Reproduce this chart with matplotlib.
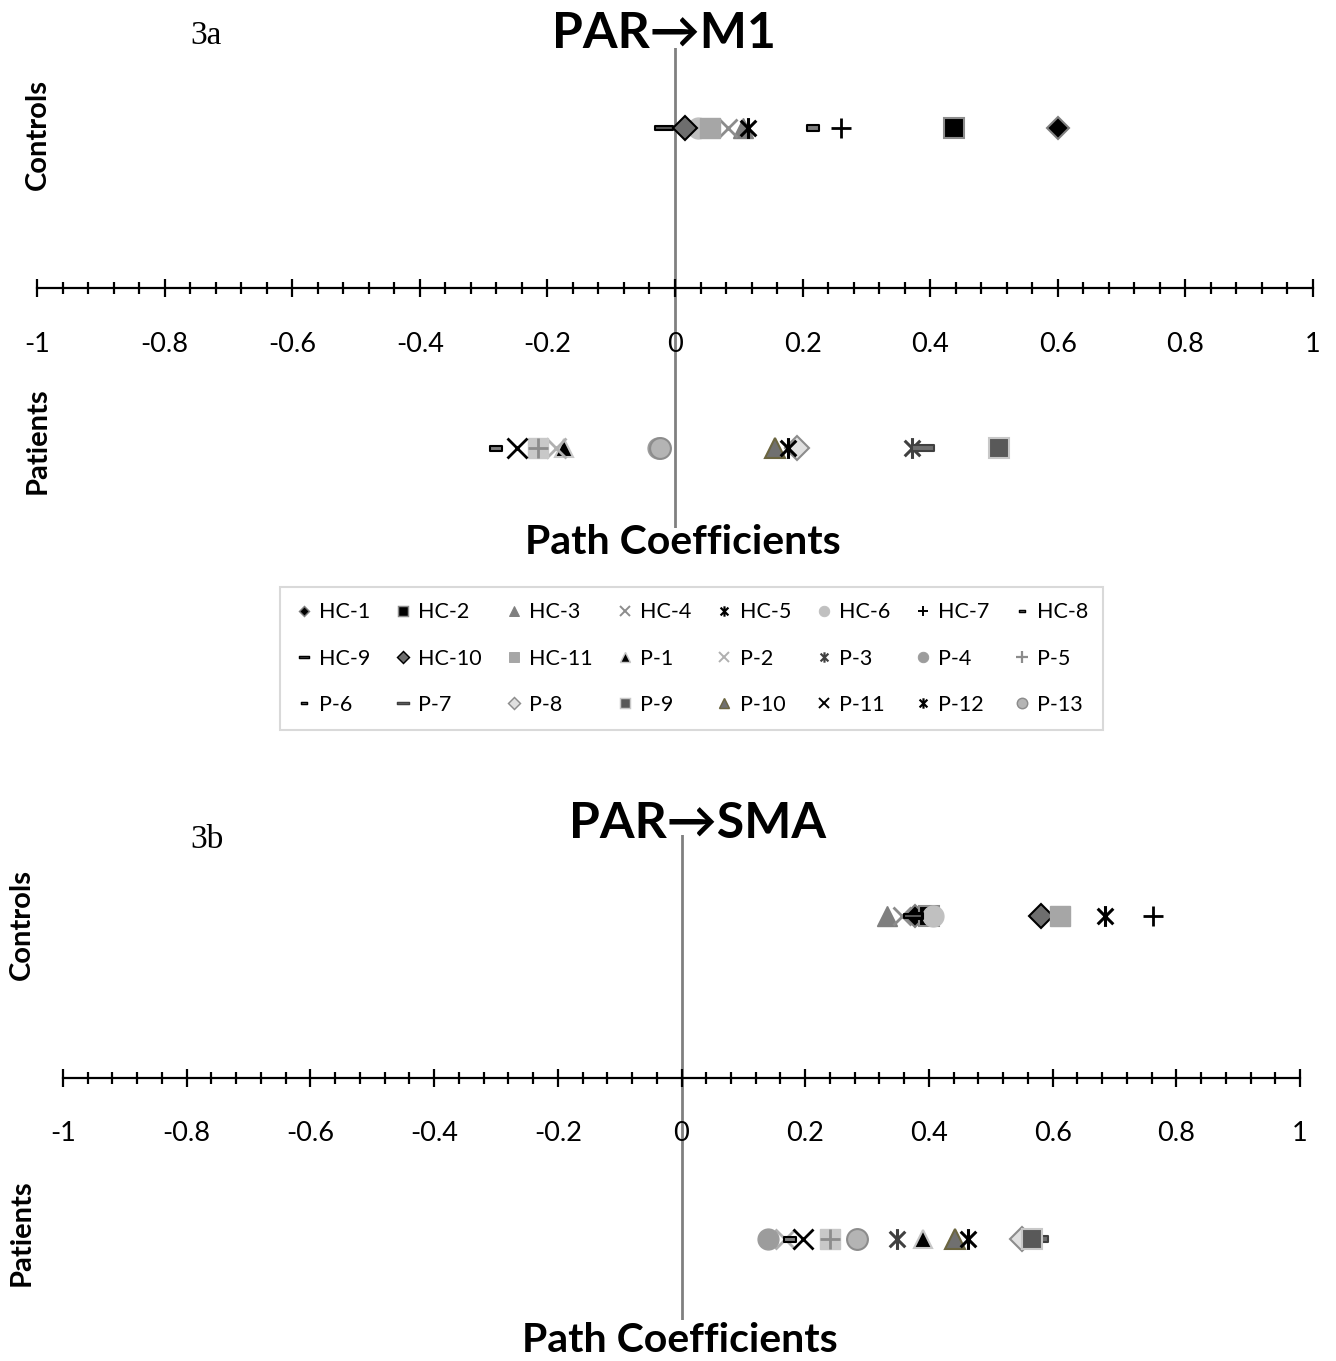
import numpy as np
import matplotlib
matplotlib.use("Agg")
import matplotlib.pyplot as plt
from matplotlib.path import Path
from matplotlib.lines import Line2D
from matplotlib.ticker import FixedLocator, MultipleLocator

W, H = 1336, 1361
plt.rcParams['font.family'] = ['Lato', 'DejaVu Sans']

# ---------------- data ----------------
groups = ["HC-1", "HC-2", "HC-3", "HC-4", "HC-5", "HC-6", "HC-7", "HC-8", "HC-9",
          "HC-10", "HC-11", "P-1", "P-2", "P-3", "P-4", "P-5", "P-6", "P-7", "P-8",
          "P-9", "P-10", "P-11", "P-12", "P-13"]

m1_controls = [0.600, 0.437, 0.107, 0.083, 0.115, 0.036, 0.260, 0.216, -0.017, 0.016, 0.055]
m1_patients = [-0.174, -0.186, 0.371, -0.026, -0.214, -0.281, 0.389, 0.191, 0.508,
               0.157, -0.248, 0.177, -0.024]
sma_controls = [0.378, 0.400, 0.332, 0.356, 0.685, 0.407, 0.763, 0.380, 0.375, 0.582, 0.612]
sma_patients = [0.390, 0.167, 0.348, 0.140, 0.240, 0.175, 0.575, 0.550, 0.567,
                0.442, 0.197, 0.464, 0.283]

tick_values = [-1, -0.8, -0.6, -0.4, -0.2, 0, 0.2, 0.4, 0.6, 0.8, 1]
tick_labels = ["-1", "-0.8", "-0.6", "-0.4", "-0.2", "0", "0.2", "0.4", "0.6", "0.8", "1"]

# ---------------- marker styles ----------------
star = Path([(0, -1), (0, 1), (-0.75, -0.75), (0.75, 0.75), (-0.75, 0.75), (0.75, -0.75)],
            [Path.MOVETO, Path.LINETO] * 3)
short_dash = Path([(-1, -0.45), (1, -0.45), (1, 0.45), (-1, 0.45), (-1, -0.45)],
                  [Path.MOVETO, Path.LINETO, Path.LINETO, Path.LINETO, Path.CLOSEPOLY])
long_dash = Path([(-1, -0.25), (1, -0.25), (1, 0.25), (-1, 0.25), (-1, -0.25)],
                 [Path.MOVETO, Path.LINETO, Path.LINETO, Path.LINETO, Path.CLOSEPOLY])

styles = {
    "HC-1": dict(marker='D', ms=11, mfc='black', mec='#7f7f7f', mew=1.5),
    "HC-2": dict(marker='s', ms=14, mfc='black', mec='#8c8c8c', mew=1.5),
    "HC-3": dict(marker='^', ms=15, mfc='#7f7f7f', mec='#7f7f7f', mew=1),
    "HC-4": dict(marker='x', ms=13, mfc='none', mec='#8c8c8c', mew=2),
    "HC-5": dict(marker=star, ms=15, mfc='none', mec='black', mew=2.2),
    "HC-6": dict(marker='o', ms=15, mfc='#c0c0c0', mec='#c0c0c0', mew=1),
    "HC-7": dict(marker='+', ms=15, mfc='none', mec='black', mew=2),
    "HC-8": dict(marker=short_dash, ms=9, mfc='#7f7f7f', mec='black', mew=1.5),
    "HC-9": dict(marker=long_dash, ms=13, mfc='#595959', mec='black', mew=1.5),
    "HC-10": dict(marker='D', ms=12, mfc='#6e6e6e', mec='black', mew=1.5),
    "HC-11": dict(marker='s', ms=15, mfc='#a6a6a6', mec='#a6a6a6', mew=1),
    "P-1": dict(marker='^', ms=13, mfc='black', mec='#c8c8c8', mew=1.5),
    "P-2": dict(marker='x', ms=14, mfc='none', mec='#b0b0b0', mew=2),
    "P-3": dict(marker=star, ms=15, mfc='none', mec='#404040', mew=2.2),
    "P-4": dict(marker='o', ms=15, mfc='#9c9c9c', mec='#9c9c9c', mew=1),
    "P-5": dict(marker='s', ms=14, mfc='#c8c8c8', mec='#c8c8c8', mew=1),
    "P-6": dict(marker=short_dash, ms=8, mfc='#7f7f7f', mec='black', mew=1.5),
    "P-7": dict(marker=long_dash, ms=16, mfc='#6e6e6e', mec='#404040', mew=1.5),
    "P-8": dict(marker='D', ms=12, mfc='#e0e0e0', mec='#8c8c8c', mew=1.5),
    "P-9": dict(marker='s', ms=15, mfc='#595959', mec='#c8c8c8', mew=1.5),
    "P-10": dict(marker='^', ms=15, mfc='#707070', mec='#6b6540', mew=1.5),
    "P-11": dict(marker='x', ms=14, mfc='none', mec='black', mew=2),
    "P-12": dict(marker=star, ms=15, mfc='none', mec='black', mew=2.2),
    "P-13": dict(marker='o', ms=15, mfc='#b4b4b4', mec='#8c8c8c', mew=1.5),
}

fig = plt.figure(figsize=(W / 100, H / 100), dpi=100)


def fx(px):
    return px / W


def fy(py):
    return 1 - py / H


def make_panel(left, right, top, bottom, controls, patients):
    ax = fig.add_axes([fx(left), fy(bottom), (right - left) / W, (bottom - top) / H])
    ax.set_xlim(-1, 1)
    ax.set_ylim(-1.5, 1.5)
    ax.patch.set_alpha(0)
    for s in ['top', 'left', 'right']:
        ax.spines[s].set_visible(False)
    ax.spines['bottom'].set_position(('data', 0))
    ax.spines['bottom'].set_linewidth(1.6)
    ax.spines['bottom'].set_color('black')
    ax.xaxis.set_major_locator(FixedLocator(tick_values))
    ax.set_xticklabels(tick_labels)
    ax.xaxis.set_minor_locator(MultipleLocator(0.04))
    ax.tick_params(axis='x', which='major', direction='inout', length=13, width=1.6,
                   pad=25, labelsize=19.5, colors='black')
    ax.tick_params(axis='x', which='minor', direction='inout', length=9, width=1.6)
    ax.set_yticks([])
    ax.axvline(0, color='#808080', lw=2, zorder=1)
    for name, v in zip(groups[:11], controls):
        ax.plot([v], [1], linestyle='none', zorder=3, **styles[name])
    for name, v in zip(groups[11:], patients):
        ax.plot([v], [-1], linestyle='none', zorder=3, **styles[name])
        if name == "P-5":
            ax.plot([v], [-1], linestyle='none', marker='+', ms=14, mec='#8c8c8c', mew=2, zorder=3)
    return ax


ax1 = make_panel(37, 1313, 48, 528, m1_controls, m1_patients)
ax2 = make_panel(63, 1300, 835, 1320, sma_controls, sma_patients)

# ---------------- texts ----------------
fig.text(fx(664), fy(33), "PAR\u2192M1", fontsize=36, fontweight='bold', ha='center', va='center')
fig.text(fx(698), fy(823), "PAR\u2192SMA", fontsize=36, fontweight='bold', ha='center', va='center')
fig.text(fx(683), fy(543), "Path Coefficients", fontsize=29.5, fontweight='bold', ha='center', va='center')
fig.text(fx(680), fy(1340), "Path Coefficients", fontsize=29.5, fontweight='bold', ha='center', va='center')
fig.text(fx(38), fy(135), "Controls", fontsize=21, fontweight='bold', rotation=90, ha='center', va='center')
fig.text(fx(38), fy(441), "Patients", fontsize=21, fontweight='bold', rotation=90, ha='center', va='center')
fig.text(fx(22), fy(925), "Controls", fontsize=21, fontweight='bold', rotation=90, ha='center', va='center')
fig.text(fx(22), fy(1233), "Patients", fontsize=21, fontweight='bold', rotation=90, ha='center', va='center')
fig.text(fx(206), fy(36), "3a", fontsize=24, family=['Liberation Serif', 'DejaVu Serif'], ha='center', va='center')
fig.text(fx(207), fy(840), "3b", fontsize=24, family=['Liberation Serif', 'DejaVu Serif'], ha='center', va='center')

# ---------------- legend ----------------
handles = []
for name in groups:
    st = dict(styles[name])
    st['ms'] = st['ms'] * 0.5
    st['mew'] = st['mew'] * 0.7
    if name == "P-5":
        st = dict(marker='+', ms=8, mec='#8c8c8c', mew=1.6)
    handles.append(Line2D([], [], linestyle='none', **st))

nrow, ncol = 3, 8
order = [r * ncol + c for c in range(ncol) for r in range(nrow)]
leg = fig.legend([handles[i] for i in order], [groups[i] for i in order], ncol=ncol,
                 mode='expand', loc='center',
                 bbox_to_anchor=(fx(280), fy(726), 823 / W, 135 / H),
                 borderaxespad=0, fontsize=15.5, handlelength=0.8, handletextpad=0.3,
                 labelspacing=1.22, columnspacing=0.4, borderpad=0.7,
                 frameon=True, fancybox=False, edgecolor='#d0d0d0')
leg.get_frame().set_linewidth(1.5)

fig.savefig("out.png", dpi=100)
